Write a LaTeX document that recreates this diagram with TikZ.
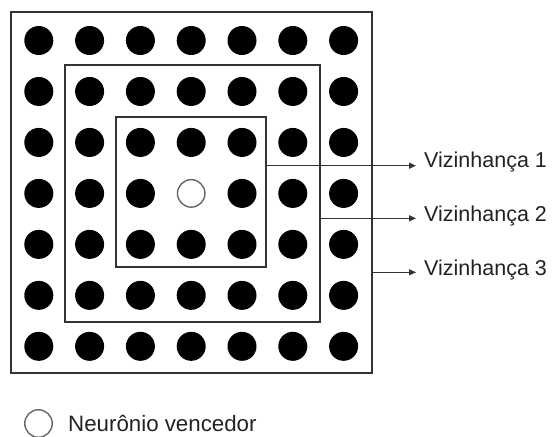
\documentclass[tikz,border=0pt]{standalone}
\usepackage{fontspec}
\setmainfont{Liberation Sans}
\usetikzlibrary{arrows.meta}
\definecolor{linec}{HTML}{333333}
\definecolor{textc}{HTML}{222222}
\definecolor{ringc}{HTML}{666666}
\tikzset{
  dot/.style={circle,fill=black,draw=none,minimum size=29pt,inner sep=0pt},
  winner/.style={circle,fill=white,draw=ringc,line width=1.4pt,minimum size=27.5pt,inner sep=0pt},
  boxline/.style={draw=linec,line width=1.3pt},
  arr/.style={draw=linec,line width=1.1pt,-{Triangle[length=7pt,width=6pt]}},
  lbl/.style={anchor=base west,text=textc,inner sep=0pt,font=\fontsize{21.5}{26}\selectfont},
}
\begin{document}
\begin{tikzpicture}[x=1pt,y=-1pt]
\useasboundingbox (0,0) rectangle (555,437);
% boxes
\draw[boxline] (11,12) rectangle (372,373);
\draw[boxline] (65,65) rectangle (320,322);
\draw[boxline] (116,117) rectangle (266,267);
% dots
\foreach \i in {0,...,6}{
  \foreach \j in {0,...,6}{
    \pgfmathtruncatemacro{\isc}{(\i==3)&&(\j==3)}
    \ifnum\isc=0
      \node[dot] (d\i\j) at ({38.8+50.8*\i},{40.5+50.97*\j}) {};
    \fi
  }
}
\node[winner] (w) at ({38.8+50.8*3},{40.5+50.97*3}) {};
% labels
\node[lbl] (l1) at (424,167) {Vizinhança 1};
\node[lbl] (l2) at (424,221) {Vizinhança 2};
\node[lbl] (l3) at (424,275.5) {Vizinhança 3};
\coordinate (s1) at (266,165.7);
\coordinate (s2) at (320,218.3);
\coordinate (s3) at (372,272.3);
\coordinate (e1) at (416,165.7);
\coordinate (e2) at (416,218.3);
\coordinate (e3) at (416,272.3);
\draw[arr] (s1) -- (e1);
\draw[arr] (s2) -- (e2);
\draw[arr] (s3) -- (e3);
% legend
\node[winner] (lw) at (38.5,423.5) {};
\node[lbl,font=\fontsize{22.3}{26}\selectfont] (lt) at (68,431) {Neurônio vencedor};
\end{tikzpicture}
\end{document}
